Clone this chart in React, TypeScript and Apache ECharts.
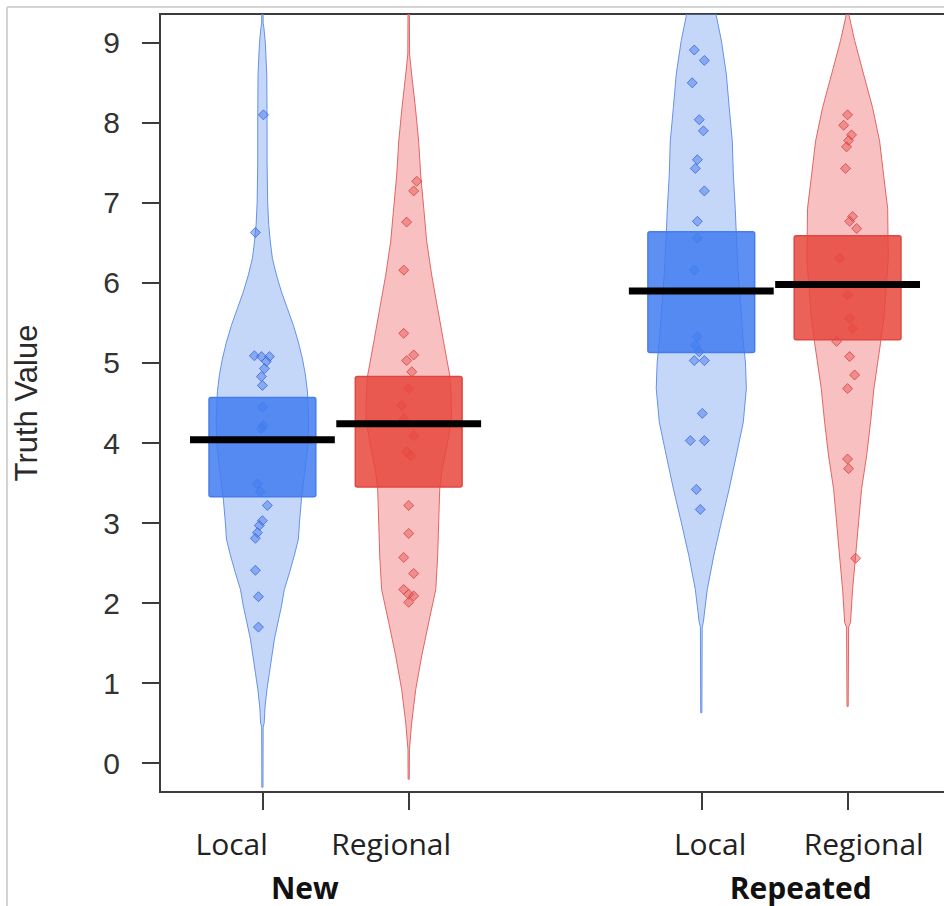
import React, { useEffect, useRef } from "react";
import * as echarts from "echarts";

// ---- categories / axis data ----
const beanPositions = [1, 2, 4, 5];
const tickLabelPositions = [0.79, 1.88, 4.06, 5.11];
const tickLabels = ["Local", "Regional", "Local", "Regional"];
const groupLabelPositions = [1.29, 4.68];
const groupLabels = ["New", "Repeated"];
const yTicks = [0, 1, 2, 3, 4, 5, 6, 7, 8, 9];

// ---- violin density profiles: [value, half-width in x units] ----
const localNewProfile = [
  [-0.3, 0.004], [0.45, 0.005], [0.5, 0.012], [0.7, 0.018], [0.92, 0.031], [1.13, 0.048],
  [1.55, 0.082], [1.96, 0.13], [2.17, 0.15], [2.38, 0.185], [2.6, 0.219], [2.8, 0.246],
  [3.0, 0.253], [3.3, 0.267], [3.7, 0.294], [4.0, 0.312], [4.3, 0.316], [4.64, 0.308],
  [4.85, 0.294], [5.05, 0.274], [5.26, 0.246], [5.47, 0.212], [5.68, 0.171], [5.89, 0.13],
  [6.1, 0.096], [6.31, 0.068], [6.5, 0.055], [6.73, 0.043], [7.0, 0.036], [7.5, 0.032],
  [8.0, 0.032], [8.6, 0.03], [9.0, 0.02], [9.19, 0.01], [9.25, 0.005], [9.6, 0.004],
];
const regionalNewProfile = [
  [-0.2, 0.004], [0.17, 0.005], [0.5, 0.02], [0.92, 0.048], [1.34, 0.089], [1.76, 0.137],
  [2.17, 0.185], [2.59, 0.198], [3.01, 0.205], [3.42, 0.212], [3.64, 0.226], [4.0, 0.265],
  [4.3, 0.292], [4.6, 0.29], [4.85, 0.28], [5.26, 0.239], [5.68, 0.198], [6.1, 0.157],
  [6.52, 0.123], [6.93, 0.103], [7.35, 0.082], [7.77, 0.068], [8.19, 0.046], [8.61, 0.02],
  [8.86, 0.006], [9.6, 0.004],
];
const localRepeatedProfile = [
  [0.63, 0.004], [1.7, 0.006], [1.76, 0.014], [1.96, 0.027], [2.17, 0.041], [2.59, 0.085],
  [3.01, 0.137], [3.43, 0.191], [3.84, 0.239], [4.26, 0.287], [4.68, 0.308], [5.0, 0.302],
  [5.27, 0.287], [5.7, 0.27], [6.1, 0.253], [6.5, 0.242], [6.93, 0.232], [7.35, 0.219],
  [7.77, 0.212], [8.19, 0.191], [8.61, 0.171], [9.03, 0.137], [9.36, 0.1], [9.6, 0.06],
  [9.8, 0.01],
];
const regionalRepeatedProfile = [
  [0.71, 0.004], [1.7, 0.007], [1.76, 0.02], [2.17, 0.034], [2.59, 0.055], [3.01, 0.075],
  [3.43, 0.096], [3.84, 0.13], [4.26, 0.157], [4.68, 0.18], [5.26, 0.226], [5.6, 0.25],
  [6.3, 0.278], [6.93, 0.274], [7.35, 0.246], [7.77, 0.219], [8.19, 0.171], [8.61, 0.109],
  [9.03, 0.048], [9.36, 0.008], [9.45, 0.003],
];

// ---- inference bands and means ----
const boxLower = [3.33, 3.45, 5.13, 5.29];
const boxUpper = [4.57, 4.83, 6.64, 6.59];
const means = [4.04, 4.24, 5.9, 5.98];

// ---- raw points (value) and horizontal jitter (x units) ----
const localNewValues = [8.1, 6.63, 5.09, 5.08, 5.08, 5.02, 4.93, 4.83, 4.72, 4.45, 4.22, 4.18, 3.49, 3.39, 3.22, 3.03, 2.97, 2.88, 2.81, 2.41, 2.08, 1.7];
const localNewJitter = [0.007, -0.048, -0.055, -0.007, 0.048, 0.027, 0.014, -0.007, 0, 0, 0.007, -0.007, -0.034, -0.014, 0.034, 0, -0.021, -0.034, -0.048, -0.048, -0.027, -0.027];
const regionalNewValues = [7.27, 7.15, 6.76, 6.16, 5.37, 5.1, 5.03, 4.89, 4.68, 4.47, 4.3, 4.09, 3.89, 3.84, 3.22, 2.87, 2.57, 2.37, 2.17, 2.11, 2.09, 2.01];
const regionalNewJitter = [0.055, 0.034, -0.014, -0.034, -0.034, 0.034, -0.014, 0.021, 0, -0.048, -0.034, 0.034, -0.014, 0.014, 0, 0, -0.034, 0.034, -0.034, 0, 0.034, 0];
const localRepeatedValues = [8.91, 8.78, 8.5, 8.04, 7.9, 7.54, 7.43, 7.15, 6.77, 6.56, 6.16, 5.33, 5.22, 5.14, 5.03, 5.03, 4.37, 4.03, 4.03, 3.42, 3.17];
const localRepeatedJitter = [-0.048, 0.021, -0.062, -0.014, 0.014, -0.027, -0.041, 0.021, -0.027, -0.027, -0.048, -0.027, -0.041, -0.014, -0.048, 0.021, 0.007, -0.075, 0.021, -0.034, -0.007];
const regionalRepeatedValues = [8.1, 7.97, 7.85, 7.78, 7.7, 7.43, 6.83, 6.77, 6.68, 6.31, 5.85, 5.56, 5.43, 5.27, 5.08, 4.85, 4.68, 3.8, 3.68, 2.56];
const regionalRepeatedJitter = [0, -0.027, 0.027, 0.007, -0.007, -0.014, 0.034, 0.014, 0.062, -0.055, 0, 0.014, 0.034, -0.075, 0.014, 0.048, 0, 0, 0.007, 0.055];

const profiles = [localNewProfile, regionalNewProfile, localRepeatedProfile, regionalRepeatedProfile];

const violinFill = ["rgba(100,150,240,0.38)", "rgba(236,90,90,0.38)"];
const violinStroke = ["rgba(95,140,230,0.95)", "rgba(222,95,95,0.95)"];
const boxFill = ["rgba(65,125,240,0.85)", "rgba(232,70,60,0.85)"];
const boxStroke = ["rgb(70,125,235)", "rgb(222,72,66)"];

const BOX_HALF = 0.365;
const MEAN_HALF = 0.495;

function buildPoints(pos: number, values: number[], jitter: number[]) {
  return values.map((v, i) => [pos + jitter[i], v]);
}

export default function App() {
  const ref = useRef<HTMLDivElement>(null);

  useEffect(() => {
    if (!ref.current) return;
    const chart = echarts.init(ref.current, undefined, { renderer: "svg" });

    const labelFor = (list: number[], names: string[]) => (v: number) => {
      let best = 0;
      let d = Infinity;
      list.forEach((p, i) => {
        const dd = Math.abs(p - v);
        if (dd < d) {
          d = dd;
          best = i;
        }
      });
      return names[best];
    };

    const option: any = {
      animation: false,
      backgroundColor: "#ffffff",
      grid: {
        left: 160,
        top: 14,
        width: 790,
        height: 778,
        show: true,
        borderColor: "#3c3c3c",
        borderWidth: 2,
        backgroundColor: "transparent",
        containLabel: false,
        outerBoundsMode: "none",
      },
      xAxis: [
        {
          type: "value",
          min: 0.3,
          max: 5.7,
          position: "bottom",
          axisLine: { show: false, onZero: false },
          splitLine: { show: false },
          axisTick: {
            show: true,
            customValues: beanPositions,
            length: 18,
            lineStyle: { color: "#3c3c3c", width: 2 },
          },
          axisLabel: {
            customValues: tickLabelPositions,
            formatter: labelFor(tickLabelPositions, tickLabels),
            margin: 36,
            fontSize: 30,
            fontFamily: "Open Sans",
            color: "#222",
          },
        },
        {
          type: "value",
          min: 0.3,
          max: 5.7,
          position: "bottom",
          axisLine: { show: false, onZero: false },
          splitLine: { show: false },
          axisTick: { show: false },
          axisLabel: {
            customValues: groupLabelPositions,
            formatter: labelFor(groupLabelPositions, groupLabels),
            margin: 80,
            fontSize: 30,
            fontWeight: "bold",
            fontFamily: "Open Sans",
            color: "#111",
          },
        },
      ],
      yAxis: {
        type: "value",
        min: -0.36,
        max: 9.36,
        axisLine: { show: false, onZero: false },
        splitLine: { show: false },
        axisTick: {
          show: true,
          customValues: yTicks,
          length: 18,
          lineStyle: { color: "#3c3c3c", width: 2 },
        },
        axisLabel: {
          customValues: yTicks,
          margin: 40,
          fontSize: 30,
          fontFamily: "Liberation Sans",
          color: "#333",
        },
        name: "Truth Value",
        nameLocation: "middle",
        nameGap: 118,
        nameTextStyle: { fontSize: 31, fontFamily: "Liberation Sans", color: "#2a2a2a" },
      },
      graphic: [
        { type: "line", shape: { x1: 7, y1: 7, x2: 944, y2: 7 }, style: { stroke: "#d4d4d4", lineWidth: 2 }, silent: true },
        { type: "line", shape: { x1: 7, y1: 7, x2: 7, y2: 906 }, style: { stroke: "#d4d4d4", lineWidth: 2 }, silent: true },
      ],
      series: [
        {
          type: "custom",
          name: "beans",
          coordinateSystem: "cartesian2d",
          clip: true,
          z: 1,
          data: beanPositions.map((p, i) => [p, means[i]]),
          renderItem: (params: any, api: any) => {
            const i = params.dataIndex;
            const pos = beanPositions[i];
            const prof = profiles[i];
            const pts: number[][] = [];
            for (const [v, w] of prof) pts.push(api.coord([pos + w, v]));
            for (let k = prof.length - 1; k >= 0; k--) {
              const [v, w] = prof[k];
              pts.push(api.coord([pos - w, v]));
            }
            return {
              type: "polygon",
              shape: { points: pts, smooth: 0 },
              style: { fill: violinFill[i % 2], stroke: violinStroke[i % 2], lineWidth: 1 },
            };
          },
        },
        {
          type: "scatter",
          name: "Local points",
          z: 2,
          clip: true,
          symbol: "diamond",
          symbolSize: 10,
          itemStyle: { color: "rgba(75,120,232,0.62)", borderColor: "rgba(50,100,222,0.95)", borderWidth: 1 },
          data: [
            ...buildPoints(beanPositions[0], localNewValues, localNewJitter),
            ...buildPoints(beanPositions[2], localRepeatedValues, localRepeatedJitter),
          ],
        },
        {
          type: "scatter",
          name: "Regional points",
          z: 2,
          clip: true,
          symbol: "diamond",
          symbolSize: 10,
          itemStyle: { color: "rgba(228,72,72,0.55)", borderColor: "rgba(210,55,55,0.9)", borderWidth: 1 },
          data: [
            ...buildPoints(beanPositions[1], regionalNewValues, regionalNewJitter),
            ...buildPoints(beanPositions[3], regionalRepeatedValues, regionalRepeatedJitter),
          ],
        },
        {
          type: "custom",
          name: "bands",
          coordinateSystem: "cartesian2d",
          clip: true,
          z: 3,
          data: beanPositions.map((p, i) => [p, boxLower[i], boxUpper[i]]),
          renderItem: (params: any, api: any) => {
            const i = params.dataIndex;
            const pos = api.value(0);
            const lo = api.value(1);
            const hi = api.value(2);
            const tl = api.coord([pos - BOX_HALF, hi]);
            const br = api.coord([pos + BOX_HALF, lo]);
            return {
              type: "rect",
              shape: { x: tl[0], y: tl[1], width: br[0] - tl[0], height: br[1] - tl[1], r: 2 },
              style: { fill: boxFill[i % 2], stroke: boxStroke[i % 2], lineWidth: 1.5 },
            };
          },
        },
        {
          type: "custom",
          name: "means",
          coordinateSystem: "cartesian2d",
          clip: true,
          z: 4,
          data: beanPositions.map((p, i) => [p, means[i]]),
          renderItem: (params: any, api: any) => {
            const pos = api.value(0);
            const m = api.value(1);
            const a = api.coord([pos - MEAN_HALF, m]);
            const b = api.coord([pos + MEAN_HALF, m]);
            return {
              type: "line",
              shape: { x1: a[0], y1: a[1], x2: b[0], y2: b[1] },
              style: { stroke: "#000", lineWidth: 7, lineCap: "butt" },
            };
          },
        },
      ],
    };

    chart.setOption(option);
    return () => chart.dispose();
  }, []);

  return (
    <div
      ref={ref}
      style={{ position: "fixed", left: 0, top: 0, width: 944, height: 906, background: "#fff" }}
    />
  );
}
